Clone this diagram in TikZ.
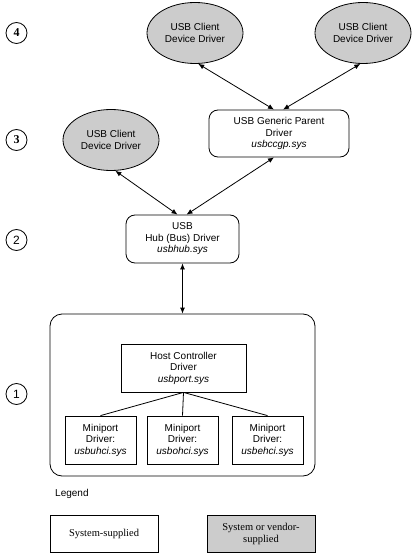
\documentclass[tikz,border=0pt]{standalone}
\usepackage{fontspec}
\setmainfont{Liberation Sans}
\newfontfamily\serifface{Liberation Serif}
\usetikzlibrary{shapes.geometric,arrows.meta}
\tikzset{
  every node/.style={font=\fontsize{10}{11.5}\selectfont, align=center, inner sep=0pt},
  line/.style={line width=0.8pt},
  dbl/.style={line width=0.8pt, {Latex[length=6pt,width=5pt]}-{Latex[length=6pt,width=5pt]}},
  client/.style={ellipse, draw, line width=0.8pt, fill=black!20, minimum width=96pt, minimum height=61pt},
  rbox/.style={draw, line width=0.8pt, rounded corners=9pt},
  sbox/.style={draw, line width=0.8pt},
  level/.style={circle, draw, line width=0.8pt, minimum size=21pt, font=\fontsize{12}{13}\selectfont},
  legbox/.style={draw, line width=0.8pt, minimum width=108pt, minimum height=37pt, font=\serifface\fontsize{10.5}{12}\selectfont}
}
\begin{document}
\begin{tikzpicture}[x=1pt,y=-1pt]
\useasboundingbox (0,0) rectangle (412,553);
% level markers
\node[level, font=\serifface\bfseries\fontsize{12}{13}\selectfont] (l4) at (16.5,33) {4};
\node[level, font=\serifface\bfseries\fontsize{12}{13}\selectfont] (l3) at (16.5,140) {3};
\node[level] (l2) at (16.5,240) {2};
\node[level] (l1) at (16.5,394) {1};
% clients
\node[client] (c4a) at (195,33) {USB Client\\Device Driver};
\node[client] (c4b) at (363,33) {USB Client\\Device Driver};
\node[client] (c3) at (111,140) {USB Client\\Device Driver};
% generic parent
\node[rbox, minimum width=140pt, minimum height=47pt] (gp) at (279,133.5) {USB Generic Parent\\Driver\\\textit{usbccgp.sys}};
% hub
\node[rbox, minimum width=113pt, minimum height=48pt] (hub) at (182.5,239) {USB\\Hub (Bus) Driver\\\textit{usbhub.sys}};
% container
\node[rbox, rounded corners=12pt, minimum width=265pt, minimum height=162pt] (cont) at (182.5,395) {};
\node[sbox, minimum width=125pt, minimum height=48pt] (hcd) at (183.5,368) {Host Controller\\Driver\\\textit{usbport.sys}};
\node[sbox, minimum width=71pt, minimum height=48pt] (m1) at (100.5,440) {Miniport\\Driver:\\\textit{usbuhci.sys}};
\node[sbox, minimum width=71pt, minimum height=48pt] (m2) at (182.5,440) {Miniport\\Driver:\\\textit{usbohci.sys}};
\node[sbox, minimum width=71pt, minimum height=48pt] (m3) at (267.5,440) {Miniport\\Driver:\\\textit{usbehci.sys}};
\draw[line] (hcd.south) -- (m1.north);
\draw[line] (hcd.south) -- (m2.north);
\draw[line] (hcd.south) -- (m3.north);
% arrows
\draw[dbl] ([xshift=-5pt]hub.north) -- (c3.-82);
\draw[dbl] ([xshift=4pt]hub.north) -- ([xshift=-5pt]gp.south);
\draw[dbl] ([xshift=-5pt]gp.north) -- (c4a.-84);
\draw[dbl] ([xshift=4pt]gp.north) -- (c4b.-95);
\draw[dbl] (hub.south) -- (cont.north);
% legend
\node[anchor=west] (leg) at (55,494) {Legend};
\node[legbox] (ls) at (104,533.5) {System-supplied};
\node[legbox, fill=black!20] (lv) at (261,533.5) {System or vendor-\\supplied};
\end{tikzpicture}
\end{document}
